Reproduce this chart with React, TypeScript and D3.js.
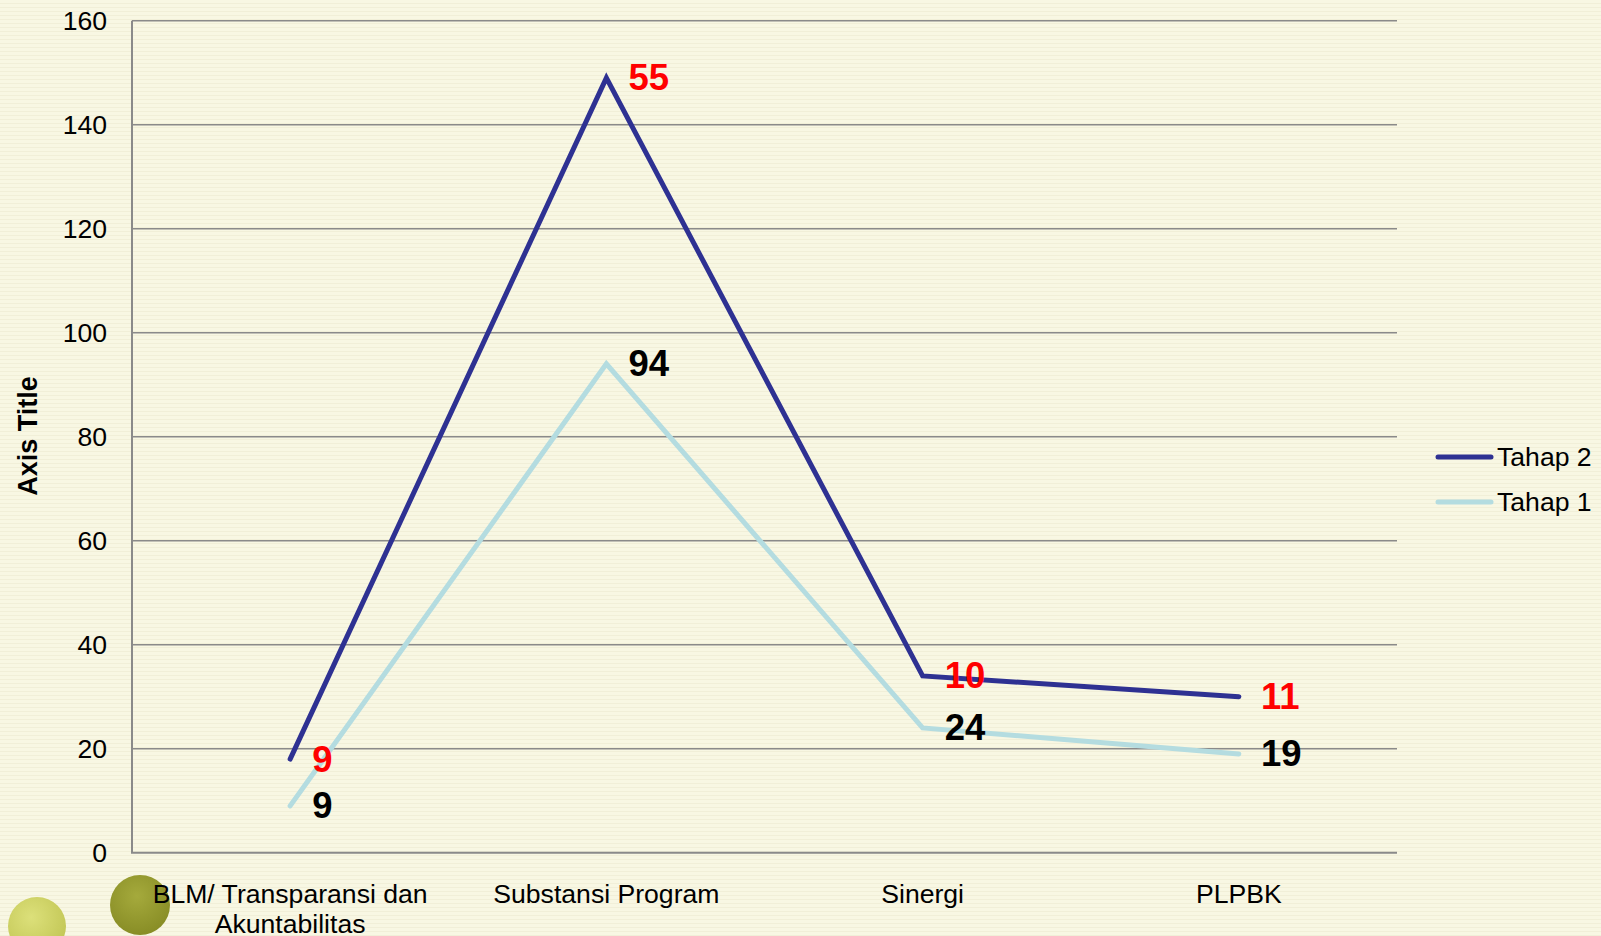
import React, { useEffect } from "react";
import * as d3 from "d3";

const categories = ["BLM/ Transparansi dan\nAkuntabilitas", "Substansi Program", "Sinergi", "PLPBK"];
const tahap1 = [9, 94, 24, 19];
const tahap2 = [9, 55, 10, 11];
const yTicks = [0, 20, 40, 60, 80, 100, 120, 140, 160];
const seriesNames = ["Tahap 2", "Tahap 1"];

const W = 1601;
const H = 936;
const FONT = "'Liberation Sans', Arial, Helvetica, sans-serif";
const FS = 26.6;

export default function App() {
  useEffect(() => {
    document.body.style.margin = "0";
  }, []);

  const x = d3.scaleBand<string>().domain(categories).range([132, 1397]);
  const y = d3.scaleLinear().domain([0, 160]).range([852.7, 20.7]);
  const cx = (c: string) => (x(c) as number) + x.bandwidth() / 2;

  const rows = categories.map((c, i) => ({ cat: c, t1: tahap1[i], t2: tahap2[i] }));
  const stacked = d3.stack<any>().keys(["t1", "t2"])(rows);
  const s1 = stacked[0];
  const s2 = stacked[1];

  const line = d3
    .line<any>()
    .x((d) => cx(d.data.cat))
    .y((d) => y(d[1]));

  return (
    <svg width={W} height={H} style={{ display: "block" }} fontFamily={FONT}>
      <defs>
        <pattern id="stripes" width="8" height="4" patternUnits="userSpaceOnUse">
          <rect width="8" height="4" fill="#F8F7E3" />
          <rect y="3" width="8" height="1" fill="#F1EFD8" />
        </pattern>
        <radialGradient id="gLight" cx="0.4" cy="0.35" r="0.7">
          <stop offset="0" stopColor="#DCE07A" />
          <stop offset="1" stopColor="#C2C655" />
        </radialGradient>
        <radialGradient id="gOlive" cx="0.45" cy="0.35" r="0.7">
          <stop offset="0" stopColor="#A5AA3C" />
          <stop offset="1" stopColor="#868B24" />
        </radialGradient>
      </defs>
      <rect width={W} height={H} fill="url(#stripes)" />

      <circle cx={37} cy={926} r={29} fill="url(#gLight)" />
      <circle cx={140} cy={905} r={30} fill="url(#gOlive)" />

      {yTicks.map((t) => (
        <g key={t}>
          {t > 0 && <line x1={132} x2={1397} y1={y(t)} y2={y(t)} stroke="#8A8A8A" strokeWidth={1.5} />}
          <text x={107} y={y(t)} textAnchor="end" dominantBaseline="central" fontSize={FS} fill="#000">
            {t}
          </text>
        </g>
      ))}
      <line x1={132} x2={132} y1={y(160)} y2={y(0)} stroke="#8A8A8A" strokeWidth={2} />
      <line x1={131} x2={1397} y1={y(0)} y2={y(0)} stroke="#8A8A8A" strokeWidth={2} />

      {categories.map((c) => (
        <text key={c} x={cx(c)} y={903} textAnchor="middle" fontSize={FS} fill="#000">
          {c.split("\n").map((l, i) => (
            <tspan key={i} x={cx(c)} dy={i === 0 ? 0 : 30}>
              {l}
            </tspan>
          ))}
        </text>
      ))}

      <text
        transform={`translate(28,436) rotate(-90)`}
        textAnchor="middle"
        dominantBaseline="central"
        fontSize={27}
        fontWeight="bold"
        fill="#000"
      >
        Axis Title
      </text>

      <path d={line(s1 as any) || ""} fill="none" stroke="#B4DCE0" strokeWidth={5} strokeLinecap="round" strokeLinejoin="miter" />
      <path d={line(s2 as any) || ""} fill="none" stroke="#2E3192" strokeWidth={5} strokeLinecap="round" strokeLinejoin="miter" />

      {s1.map((d: any, i: number) => (
        <text key={"a" + i} x={cx(d.data.cat) + 22} y={y(d[1])} dominantBaseline="central" fontSize={36.5} fontWeight="bold" fill="#000">
          {tahap1[i]}
        </text>
      ))}
      {s2.map((d: any, i: number) => (
        <text key={"b" + i} x={cx(d.data.cat) + 22} y={y(d[1])} dominantBaseline="central" fontSize={36.5} fontWeight="bold" fill="#FF0000">
          {tahap2[i]}
        </text>
      ))}

      {seriesNames.map((n, i) => (
        <g key={n}>
          <line x1={1438} x2={1491} y1={457 + i * 45} y2={457 + i * 45} stroke={i === 0 ? "#2E3192" : "#B4DCE0"} strokeWidth={5} strokeLinecap="round" />
          <text x={1497} y={457 + i * 45} dominantBaseline="central" fontSize={FS} fill="#000">
            {n}
          </text>
        </g>
      ))}
    </svg>
  );
}
